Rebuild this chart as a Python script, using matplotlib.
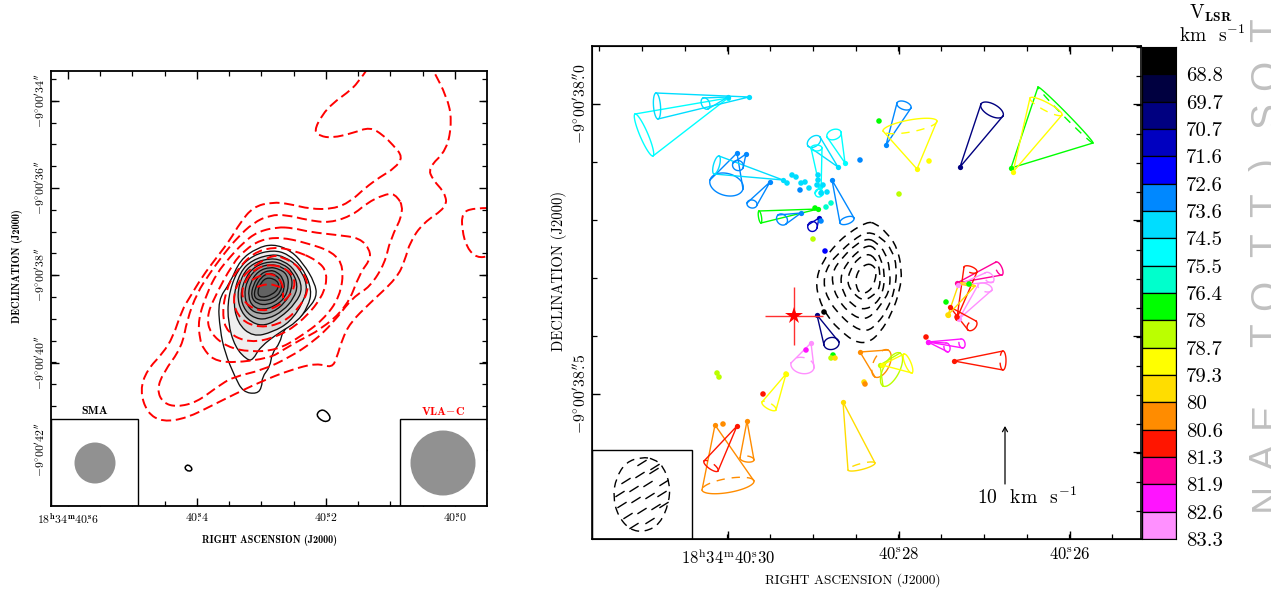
import numpy as np
import matplotlib
matplotlib.use("Agg")
import matplotlib.pyplot as plt
from matplotlib.path import Path
from matplotlib.patches import PathPatch, Circle, Rectangle

plt.rcParams["font.family"] = ["cmr10", "DejaVu Serif"]
plt.rcParams["mathtext.fontset"] = "cm"
plt.rcParams["axes.unicode_minus"] = False
plt.rcParams["axes.formatter.use_mathtext"] = True

W, H = 1271, 595

# everything below is in map grid units, the ticks carry the sky coordinates
# left panel: SMA contours (black) and VLA-C contours (red)
sma_contours = [
    [(273,244),(257,248),(240,260),(230,283),(218,300),(220,330),(225,353),(235,377),(243,392),(257,394),(262,387),(262,377),(270,367),(272,353),(280,343),(283,330),(297,320),(307,310),(317,297),(315,283),(303,263),(290,250)],
    [(273,250),(253,255),(237,270),(228,297),(228,323),(235,347),(247,360),(253,360),(260,347),(280,332),(297,322),(308,307),(312,290),(303,268),(288,254)],
    [(272,254),(252,260),(240,272),(233,297),(237,323),(253,337),(273,332),(290,322),(303,303),(308,285),(298,266),(285,257)],
    [(271,258),(253,263),(242,275),(237,295),(241,312),(252,323),(265,326),(280,318),(296,303),(303,288),(295,270),(284,261)],
    [(271,261),(255,266),(245,278),(240,296),(245,311),(256,319),(268,319),(283,311),(294,298),(298,285),(292,271),(283,264)],
    [(270,264),(257,268),(247,280),(244,296),(249,309),(259,314),(272,313),(285,303),(292,290),(292,276),(283,267)],
    [(270,267),(258,271),(250,283),(248,297),(253,307),(263,310),(275,306),(285,298),(289,285),(287,274),(279,269)],
    [(270,270),(260,274),(253,285),(251,297),(257,304),(268,305),(279,299),(285,289),(283,278),(277,272)],
    [(269,273),(261,277),(255,288),(254,298),(262,301),(273,299),(281,292),(282,282),(276,275)],
    [(268,277),(261,282),(257,293),(261,298),(272,295),(279,288),(278,281)],
]
sma_fills = ["none", "#efefef", "#d8d8d8", "#bebebe", "#aaaaaa", "#989898", "#8a8a8a", "#7c7c7c", "#6e6e6e", "#626262"]
sma_islands = [
    [(315,415),(323,408),(332,418),(325,423)],
    [(184,468),(188,464),(193,469),(189,472)],
]

vla_closed = [
    [(395,193),(383,195),(367,203),(353,215),(330,223),(307,220),(287,215),(270,215),(253,223),(237,238),(223,255),(210,273),(197,293),(187,320),(182,347),(163,373),(157,390),(163,403),(177,407),(197,402),(217,387),(233,377),(263,370),(290,357),(313,342),(333,323),(353,297),(370,287),(385,263),(390,240),(405,210)],
    [(277,227),(257,232),(243,243),(230,257),(217,273),(207,293),(198,320),(200,340),(203,348),(213,360),(233,363),(270,358),(283,350),(300,340),(320,330),(347,307),(360,273),(370,260),(370,250),(360,238),(337,235),(310,232),(293,228)],
    [(280,237),(260,240),(245,250),(233,263),(213,300),(207,317),(210,333),(227,347),(250,352),(277,350),(300,337),(323,320),(340,297),(344,267),(333,252),(307,243)],
    [(293,250),(273,247),(253,253),(237,270),(227,287),(222,313),(227,333),(250,343),(277,337),(300,323),(323,297),(328,273),(317,260)],
    [(270,255),(240,277),(232,300),(240,320),(260,328),(283,323),(300,307),(310,287),(300,267),(283,257)],
    [(267,264),(250,272),(240,293),(248,307),(267,312),(287,300),(297,283),(287,268)],
]
vla_open = [
    [(368,68),(358,83),(347,93),(333,103),(322,115),(314,131),(320,136),(332,138),(353,133),(370,127),(383,135),(393,145),(403,157),(395,168),(380,177),(365,188),(350,202),(333,209),(310,209),(290,204),(272,202),(253,207),(240,223),(230,240),(217,257),(202,277),(190,297),(182,310),(173,337),(163,353),(147,370),(140,390),(147,413),(163,422),(187,418),(213,405),(233,395),(260,382),(290,370),(317,363),(332,368),(337,357),(342,340),(350,323),(370,303),(397,278),(405,260),(410,242),(423,223),(447,207),(445,193),(433,180),(428,168),(447,150),(452,120),(447,97),(432,68)],
    [(490,208),(473,208),(462,213),(462,230),(467,248),(477,258),(490,256)],
    [(257,287),(267,283),(280,287)],
    [(252,280),(262,274),(274,274),(283,283),(283,298)],
]

# right panel: maser velocity colours, one per cell of the bar
vlsr_labels = ["68.8","69.7","70.7","71.6","72.6","73.6","74.5","75.5","76.4","78","78.7","79.3","80","80.6","81.3","81.9","82.6","83.3"]
vlsr_colors = ["#000000","#000040","#000080","#0000c0","#0000ff","#0088ff","#00ddff","#00ffff","#00ffcc","#00ff00","#bbff00","#ffff00","#ffdd00","#ff8c00","#ff1500","#ff0099","#ff14ff","#ff90ff"]

cone_apex = [(728,98),(749,97),(728,97),(737,153),(783,180),(746,154),(770,182),(818,209),(801,213),(819,218),
             (832,180),(838,167),(845,163),(821,193),(820,187),(886,145),(917,169),(960,167),(1011,168),(1013,172),
             (817,315),(811,343),(786,374),(715,425),(747,421),(737,426),(843,402),(860,352),(880,365),(882,365),
             (928,342),(928,342),(954,361),(957,283),(957,318),(959,319),(958,285),(950,307),(948,315)]
cone_base_a = [(635,114),(656,93),(703,98),(710,180),(719,156),(733,163),(747,203),(759,211),(778,215),(808,225),
               (840,223),(808,146),(827,137),(811,148),(815,193),(897,103),(883,131),(981,104),(1038,87),(1030,98),
               (824,345),(791,363),(762,402),(702,490),(740,458),(704,461),(848,470),(888,350),(900,353),(904,354),
               (961,339),(946,343),(1003,351),(996,262),(964,267),(978,285),(985,273),(976,321),(959,283)]
cone_base_b = [(653,156),(658,119),(708,109),(743,189),(714,174),(743,168),(757,205),(761,223),(786,224),(817,228),
               (854,218),(820,137),(841,132),(822,148),(823,193),(911,108),(937,121),(1003,116),(1093,143),(1062,115),
               (839,342),(814,368),(776,410),(754,481),(754,460),(718,471),(875,463),(875,377),(883,386),(912,373),
               (963,348),(948,352),(1003,370),(1002,275),(977,272),(992,290),(993,282),(968,330),(975,286)]
cone_minor = [4,3.5,4,11,3,5,4,1.5,5,5,3.5,5,5,3,4,4,6,6,2,4,6,8,3,7,3,3,3,8,8,3,3,3,3,3,3,4,4,4,1]
cone_color = [7,6,6,5,6,5,5,9,5,3,5,6,7,7,7,5,11,2,9,11,2,17,11,13,13,14,12,13,10,11,16,16,14,15,14,17,17,14,12]
cone_dashed = [0,0,0,0,0,0,0,0,0,0,0,0,0,0,0,0,1,0,1,1,0,1,1,1,1,1,1,1,0,0,1,1,1,1,1,1,1,1,0]

spot_x = [792,796,801,805,809,817,818,818,823,821,827,787, 800,860,821, 826,831, 879,815,833,969,946, 813,899,717,719,831, 929,786,835,948, 864,865,723, 763,926,957, 806,825,824]
spot_y = [175,177,183,182,188,185,175,180,185,193,192,183, 190,160,221, 207,203, 121,208,355,284,302, 239,194,373,377,358, 161,374,358,315, 382,384,424, 394,337,317, 350,251,312]
spot_color = [6]*12 + [5]*3 + [8]*2 + [9]*5 + [10]*5 + [11]*2 + [12]*2 + [12,13,13] + [14]*3 + [16,4,0]

# SMA continuum on the right panel
dust_contours = [
    [(867,222),(850,232),(837,243),(822,262),(816,280),(818,297),(828,318),(842,332),(855,342),(868,343),(880,333),(892,313),(900,290),(902,270),(897,247),(887,233),(875,223)],
    [(868,231),(853,240),(840,252),(828,265),(823,282),(828,300),(840,315),(853,327),(867,332),(878,323),(887,310),(895,290),(897,267),(892,250),(882,238)],
    [(868,238),(855,245),(843,257),(833,270),(832,283),(837,298),(848,312),(862,320),(873,315),(882,303),(890,290),(890,268),(885,252),(877,243)],
    [(868,245),(857,252),(847,263),(840,277),(843,293),(852,305),(863,310),(875,305),(883,293),(885,273),(880,257),(875,248)],
    [(870,253),(858,258),(850,270),(847,283),(853,293),(863,301),(873,296),(880,288),(880,273),(878,263)],
    [(868,263),(858,270),(855,283),(860,295),(872,290),(877,273),(875,267)],
]
beam_outline = [(642,457),(626,462),(616,478),(613,497),(618,516),(630,530),(645,532),(660,524),(669,503),(670,484),(663,466),(654,459)]
beam_hatch_x = [642,655,626,640,654,664,620,634,648,662,622,636,650,664,628,642,656,634,650]
beam_hatch_y = [463,467,481,475,471,483,494,489,484,494,505,500,496,505,516,511,507,526,521]

star_x, star_y = [794], [316]
star_xerr, star_yerr = 29, 29

# stamp cut off by the right edge, reads upward
edge_letters = ["T","O","S",")","T","T","O","T","E","A","N"]
edge_y = [30,75,115,165,205,245,295,335,415,457,497]

left_x_major = [68, 197, 326, 455]
left_x_labels = [r"$\mathbf{18^{h}34^{m}40^{s}\!\!\!.6}$", r"$\mathbf{40^{s}\!\!\!.4}$", r"$\mathbf{40^{s}\!\!\!.2}$", r"$\mathbf{40^{s}\!\!\!.0}$"]
left_y_major = [101, 188, 275, 363, 450]
left_y_labels = [r"$\mathbf{-9^{\circ}00^{\prime}34^{\prime\prime}}$", r"$\mathbf{-9^{\circ}00^{\prime}36^{\prime\prime}}$", r"$\mathbf{-9^{\circ}00^{\prime}38^{\prime\prime}}$", r"$\mathbf{-9^{\circ}00^{\prime}40^{\prime\prime}}$", r"$\mathbf{-9^{\circ}00^{\prime}42^{\prime\prime}}$"]
right_x_major = [728, 899, 1070]
right_x_labels = [r"$\mathrm{18^{h}34^{m}40^{s}\!\!\!.30}$", r"$\mathrm{40^{s}\!\!\!.28}$", r"$\mathrm{40^{s}\!\!\!.26}$"]
right_y_major = [104, 394]
right_y_labels = [r"$\mathrm{-9^{\circ}00^{\prime}38^{\prime\prime}\!\!\!.0}$", r"$\mathrm{-9^{\circ}00^{\prime}38^{\prime\prime}\!\!\!.5}$"]


def smooth_path(pts, closed=True):
    p = np.array(pts, dtype=float)
    if closed:
        verts = [(p[-1] + p[0]) / 2]
        codes = [Path.MOVETO]
        for i in range(len(p)):
            verts += [p[i], (p[i] + p[(i + 1) % len(p)]) / 2]
            codes += [Path.CURVE3, Path.CURVE3]
        return Path(verts, codes)
    verts = [p[0]]
    codes = [Path.MOVETO]
    for i in range(1, len(p) - 1):
        verts += [p[i], (p[i] + p[i + 1]) / 2]
        codes += [Path.CURVE3, Path.CURVE3]
    verts.append(p[-1])
    codes.append(Path.LINETO)
    return Path(verts, codes)


def pixel_axes(fig, x0, y0, x1, y1):
    ax = fig.add_axes([x0 / W, 1 - y1 / H, (x1 - x0) / W, (y1 - y0) / H])
    ax.set_xlim(x0, x1)
    ax.set_ylim(y1, y0)
    return ax


def draw_cone(ax, apex, a, b, minor, color, dashed):
    apex, a, b = np.array(apex, float), np.array(a, float), np.array(b, float)
    c = (a + b) / 2
    u = (b - a) / 2
    n = np.array([-u[1], u[0]]) / np.hypot(*u)
    if np.dot(n, c - apex) < 0:
        n = -n
    t = np.linspace(0, np.pi, 40)
    front = c + np.outer(np.cos(t), u) + minor * np.outer(np.sin(t), n)
    back = c + np.outer(np.cos(t), u) - minor * np.outer(np.sin(t), n)
    ax.plot([a[0], apex[0], b[0]], [a[1], apex[1], b[1]], color=color, lw=1.0, zorder=4)
    ax.plot(front[:, 0], front[:, 1], color=color, lw=1.0, zorder=4)
    ax.plot(back[:, 0], back[:, 1], color=color, lw=1.0, zorder=4,
            ls=(0, (6, 5)) if dashed else "-")
    ax.plot([apex[0]], [apex[1]], "o", color=color, ms=3.8, mew=0, zorder=5)


fig = plt.figure(figsize=(W / 100, H / 100), dpi=100)

# left panel
ax1 = pixel_axes(fig, 51, 71, 487, 506)
for pts, fc in zip(sma_contours, sma_fills):
    ax1.add_patch(PathPatch(smooth_path(pts), fc=fc, ec="#111111", lw=0.95, zorder=2))
for pts in sma_islands:
    ax1.add_patch(PathPatch(smooth_path(pts), fc="none", ec="black", lw=1.1, zorder=2))
for pts in vla_closed:
    ax1.add_patch(PathPatch(smooth_path(pts), fc="none", ec="#ff0000", lw=1.4, ls=(0, (5.2, 2.4)), zorder=3))
for pts in vla_open:
    ax1.add_patch(PathPatch(smooth_path(pts, closed=False), fc="none", ec="#ff0000", lw=1.4, ls=(0, (5.2, 2.4)), zorder=3))

ax1.add_patch(Rectangle((51, 419), 87, 87, fc="white", ec="black", lw=1.0, zorder=4))
ax1.add_patch(Rectangle((400, 419), 87, 87, fc="white", ec="black", lw=1.0, zorder=4))
ax1.add_patch(Circle((95, 463), 20.5, fc="#919191", ec="none", zorder=5))
ax1.add_patch(Circle((443, 463), 32.5, fc="#919191", ec="none", zorder=5))
ax1.text(94.5, 411, "SMA", ha="center", va="center", fontsize=8.5, family="cmb10", zorder=6)
ax1.text(443, 411, r"VLA$\mathbf{-}$C", ha="center", va="center", fontsize=8.5, family="cmb10", color="#ff0000", zorder=6)

ax1.set_xticks(left_x_major)
ax1.set_xticklabels(left_x_labels, fontsize=8.5)
ax1.set_xticks(np.arange(68, 487, 32.25), minor=True)
ax1.set_yticks(left_y_major)
ax1.set_yticklabels(left_y_labels, rotation=90, va="center", fontsize=8.5)
ax1.set_yticks(np.arange(79, 506, 21.8), minor=True)
ax1.tick_params(which="major", direction="in", top=True, right=True, length=6, width=1.0, zorder=7)
ax1.tick_params(axis="x", which="major", pad=4)
ax1.tick_params(axis="y", which="major", pad=3)
ax1.tick_params(which="minor", direction="in", top=True, right=True, length=3.5, width=0.9, zorder=7)
ax1.set_xlabel("RIGHT ASCENSION (J2000)", fontsize=7.3, family="cmb10")
ax1.set_ylabel("DECLINATION (J2000)", fontsize=7.5, family="cmb10")
ax1.xaxis.set_label_coords(0.5, -(535 - 506) / 435)
ax1.yaxis.set_label_coords((23 - 51) / 436, 1 - (266 - 71) / 435)
for s in ax1.spines.values():
    s.set_linewidth(1.3)
    s.set_zorder(8)

# right panel
ax2 = pixel_axes(fig, 592, 46, 1141, 539)
for pts in dust_contours:
    ax2.add_patch(PathPatch(smooth_path(pts), fc="none", ec="black", lw=1.1, ls=(0, (5.5, 4)), zorder=2))
for i in range(len(cone_apex)):
    draw_cone(ax2, cone_apex[i], cone_base_a[i], cone_base_b[i], cone_minor[i],
              vlsr_colors[cone_color[i]], cone_dashed[i])
ax2.scatter(spot_x, spot_y, s=16, c=[vlsr_colors[k] for k in spot_color], linewidths=0, zorder=5)

ax2.errorbar(star_x, star_y, xerr=star_xerr, yerr=star_yerr, color="#ff3030", lw=1.0, capsize=0, zorder=6)
ax2.plot(star_x, star_y, marker="*", color="#ff0000", ms=13, mew=0, zorder=7)

ax2.annotate("", xy=(1005, 426), xytext=(1005, 484),
             arrowprops=dict(arrowstyle="->,head_width=0.18,head_length=0.32", lw=0.9, color="black", shrinkA=0, shrinkB=0))
ax2.text(977, 497, r"10  km  s$^{-1}$", fontsize=14.2, va="center", ha="left")

ax2.add_patch(Rectangle((592, 450), 100, 89, fc="white", ec="black", lw=1.0, zorder=8))
ax2.add_patch(PathPatch(smooth_path(beam_outline), fc="none", ec="black", lw=1.0, ls=(0, (6, 4)), zorder=9))
for hx, hy in zip(beam_hatch_x, beam_hatch_y):
    ax2.plot([hx - 4, hx + 4], [hy + 2.5, hy - 2.5], color="black", lw=1.0, zorder=9)

ax2.set_xticks(right_x_major)
ax2.set_xticklabels(right_x_labels, fontsize=12)
ax2.set_xticks(np.arange(599, 1141, 42.75), minor=True)
ax2.set_yticks(right_y_major)
ax2.set_yticklabels(right_y_labels, rotation=90, va="center", fontsize=11.3)
ax2.set_yticks(np.arange(104, 539, 58), minor=True)
ax2.tick_params(which="major", direction="in", top=True, length=6, width=1.0)
ax2.tick_params(axis="x", which="major", pad=6)
ax2.tick_params(axis="y", which="major", pad=2)
ax2.tick_params(which="minor", direction="in", top=True, length=3.5, width=0.9)
ax2.set_xlabel("RIGHT ASCENSION (J2000)", fontsize=9.6)
ax2.set_ylabel("DECLINATION (J2000)", fontsize=10.5)
ax2.xaxis.set_label_coords((853 - 592) / 549, -(580 - 539 - 7) / 493)
ax2.yaxis.set_label_coords((567 - 592) / 549, 1 - (271 - 46) / 493)
for s in ax2.spines.values():
    s.set_linewidth(1.2)
    s.set_zorder(10)

# colour bar carries its own velocity scale on the right
ax3 = pixel_axes(fig, 1142, 47, 1176, 539)
n_cells = len(vlsr_labels)
ax3.set_ylim(n_cells, 0)
ax3.set_xlim(0, 1)
ax3.barh(np.arange(n_cells) + 0.5, np.ones(n_cells), height=1.0, color=vlsr_colors, edgecolor="black", lw=0.9)
ax3.set_xticks([])
ax3.yaxis.tick_right()
ax3.set_yticks(np.arange(n_cells) + 1)
ax3.set_yticklabels(vlsr_labels, fontsize=15, ha="left")
ax3.tick_params(axis="y", length=0, pad=7)

# ticks on the right of the map sit on the bar edge
ax2r = ax2.twinx()
ax2r.set_ylim(539, 46)
ax2r.set_yticks(np.arange(104, 539, 116))
ax2r.set_yticks(np.arange(46.5, 539, 29), minor=True)
ax2r.set_yticklabels([])
ax2r.tick_params(which="major", direction="in", length=6, width=0.9)
ax2r.tick_params(which="minor", direction="in", length=3.5, width=0.9)
ax2r.spines["right"].set_visible(False)

# header and stamp in figure pixel space
ax0 = fig.add_axes([0, 0, 1, 1], facecolor="none")
ax0.set_xlim(0, W)
ax0.set_ylim(H, 0)
ax0.axis("off")
ax0.text(1189, 13, r"V$_{\mathbf{LSR}}$", fontsize=14, va="center", ha="left")
ax0.text(1179, 35, r"km  s$^{-1}$", fontsize=14, va="center", ha="left")
for ch, y in zip(edge_letters, edge_y):
    ax0.text(1277, y, ch, color="#c0c0c0", fontsize=28, family="Liberation Sans", rotation=90,
             rotation_mode="anchor", ha="center", va="baseline", clip_on=True)

fig.savefig("out.png", dpi=100)
